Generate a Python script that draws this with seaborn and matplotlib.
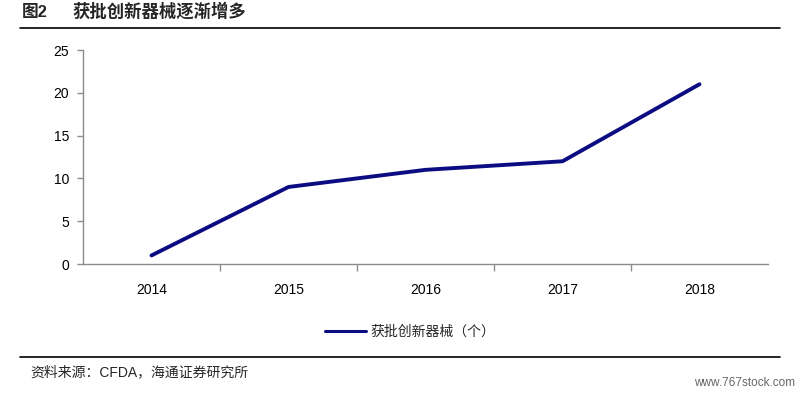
import matplotlib
matplotlib.use("Agg")
import matplotlib.pyplot as plt
import seaborn as sns
import pandas as pd
from matplotlib.lines import Line2D
from matplotlib.ticker import FixedLocator

years = ["2014", "2015", "2016", "2017", "2018"]
approved = [1, 9, 11, 12, 21]
series_name = "获批创新器械（个）"
fig_no = "图2"
title = "获批创新器械逐渐增多"
source = "资料来源：CFDA，海通证券研究所"
watermark = "www.767stock.com"

sns.set_theme(style="white")
plt.rcParams['font.family'] = ['Liberation Sans', 'Noto Sans CJK SC', 'DejaVu Sans']

df = pd.DataFrame({"idx": range(len(years)), "year": years, "value": approved})

fig = plt.figure(figsize=(8.03, 3.93), dpi=100)
ax = fig.add_axes([83/803, 1-264/393, (768-83)/803, (264-50)/393])

sns.lineplot(data=df, x="idx", y="value", ax=ax, color="#0c0c82", linewidth=2.8,
             legend=False, solid_capstyle="round", solid_joinstyle="round")

ax.set_xlim(-0.5, len(years) - 0.5)
ax.set_ylim(0, 25)
ax.set_yticks([0, 5, 10, 15, 20, 25])
ax.set_xticks(range(len(years)))
ax.set_xticklabels(years)
ax.xaxis.set_minor_locator(FixedLocator([i + 0.5 for i in range(len(years) - 1)]))
ax.tick_params(axis="x", which="major", length=0, pad=14, labelsize=10, colors="#000000")
ax.tick_params(axis="x", which="minor", length=5, width=1, color="#8c8c8c", bottom=True)
ax.tick_params(axis="y", which="major", length=4, width=1, color="#8c8c8c", left=True,
               labelsize=10, labelcolor="#000000", pad=6)
ax.set_xlabel("")
ax.set_ylabel("")
for s in ["top", "right"]:
    ax.spines[s].set_visible(False)
for s in ["left", "bottom"]:
    ax.spines[s].set_color("#8c8c8c")
    ax.spines[s].set_linewidth(1)
ax.grid(False)

handle = Line2D([0], [0], color="#0c0c82", linewidth=2.2)
fig.legend([handle], [series_name], loc="center", bbox_to_anchor=(410/803, 1-332/393),
           frameon=False, handlelength=3.0, handletextpad=0.3,
           prop={"family": ["Noto Sans CJK SC"], "size": 10})

fig.text(22/803, 1-12/393, fig_no, fontsize=12, fontweight="bold", va="center", ha="left",
         family=["Liberation Sans", "Noto Sans CJK SC"])
fig.text(72/803, 1-12/393, title, fontsize=12.5, fontweight="bold", va="center", ha="left",
         family=["Noto Sans CJK SC"])
fig.add_artist(Line2D([20/803, 780/803], [1-28/393, 1-28/393], color="black", linewidth=1.2))
fig.add_artist(Line2D([20/803, 780/803], [1-357/393, 1-357/393], color="black", linewidth=1.2))
fig.text(30/803, 1-372/393, source, fontsize=10, va="center", ha="left",
         family=["Liberation Sans", "Noto Sans CJK SC"])
fig.text(795/803, 1-383/393, watermark, fontsize=8.5, va="center", ha="right", color="#666666",
         family=["Liberation Sans"])

fig.savefig("out.png", dpi=100)
